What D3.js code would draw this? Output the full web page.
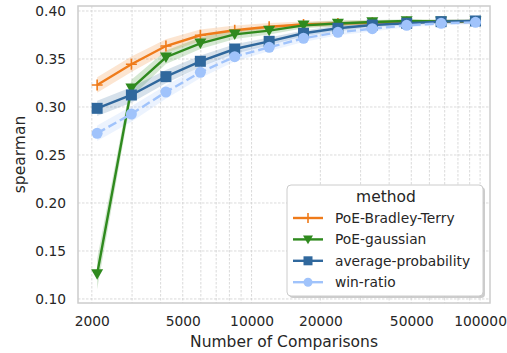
<!DOCTYPE html>
<html>
<head>
<meta charset="utf-8">
<script src="https://cdn.jsdelivr.net/npm/d3@7"></script>
<style>
  body { margin: 0; background: #fff; }
  svg { font-family: "DejaVu Sans", sans-serif; }
</style>
</head>
<body>
<div id="chart"></div>
<script>
// number of comparisons (x, log scale)
var comparisons = [2110, 2980, 4220, 5970, 8440, 11940, 16880, 23870, 33760, 47740, 67520, 95490];

// spearman per method
var bradleyTerry = [0.3229, 0.3445, 0.3635, 0.3747, 0.3800, 0.3836, 0.3860, 0.3870, 0.3878, 0.3885, 0.3889, 0.3891];
var gaussian     = [0.1260, 0.3195, 0.3518, 0.3663, 0.3757, 0.3795, 0.3850, 0.3870, 0.3885, 0.3895, 0.3892, 0.3893];
var avgProb      = [0.2986, 0.3125, 0.3316, 0.3476, 0.3604, 0.3684, 0.3768, 0.3820, 0.3854, 0.3872, 0.3889, 0.3896];
var winRatio     = [0.2726, 0.2927, 0.3156, 0.3361, 0.3524, 0.3622, 0.3716, 0.3778, 0.3816, 0.3851, 0.3872, 0.3882];

// half width of the confidence band
var bradleyTerryCI = [0.008, 0.008, 0.007, 0.006, 0.005, 0.004, 0.003, 0.003, 0.002, 0.002, 0.002, 0.002];
var gaussianCI     = [0.016, 0.009, 0.007, 0.006, 0.005, 0.004, 0.003, 0.003, 0.002, 0.002, 0.002, 0.002];
var avgProbCI      = [0.008, 0.008, 0.007, 0.006, 0.005, 0.004, 0.003, 0.003, 0.002, 0.002, 0.002, 0.002];
var winRatioCI     = [0.008, 0.008, 0.007, 0.006, 0.005, 0.004, 0.004, 0.003, 0.003, 0.002, 0.002, 0.002];

var methods = ['PoE-Bradley-Terry', 'PoE-gaussian', 'average-probability', 'win-ratio'];
var xTicks = [2000, 5000, 10000, 20000, 50000, 100000];
var xMinorTicks = [3000, 4000, 6000, 7000, 8000, 9000, 30000, 40000, 60000, 70000, 80000, 90000];
var yTicks = [0.10, 0.15, 0.20, 0.25, 0.30, 0.35, 0.40];

var series = [
  { name: methods[0], values: bradleyTerry, ci: bradleyTerryCI, color: '#ef7b1a', marker: 'plus', dash: null },
  { name: methods[1], values: gaussian, ci: gaussianCI, color: '#2f8a1e', marker: 'tri', dash: null },
  { name: methods[2], values: avgProb, ci: avgProbCI, color: '#30689d', marker: 'square', dash: null },
  { name: methods[3], values: winRatio, ci: winRatioCI, color: '#a0c3fb', marker: 'circle', dash: '9,4' }
];

var W = 507, H = 353;
var margin = {top: 6, right: 17, bottom: 50, left: 78},
    width = W - margin.left - margin.right,
    height = H - margin.top - margin.bottom;

var svg = d3.select('#chart')
  .append('svg')
    .attr('width', W)
    .attr('height', H);

var g = svg.append('g')
  .attr('transform', 'translate(' + margin.left + ',' + margin.top + ')');

var x = d3.scaleLog()
  .domain([1740, 110500])
  .range([0, width]);

var y = d3.scaleLinear()
  .domain([0.0958, 0.4052])
  .range([height, 0]);

// grid
g.selectAll('.vgrid')
  .data(xTicks.concat(xMinorTicks))
  .enter()
  .append('line')
    .attr('x1', function(d) { return x(d); })
    .attr('x2', function(d) { return x(d); })
    .attr('y1', 0)
    .attr('y2', height)
    .attr('stroke', '#d0d0d0')
    .attr('stroke-width', 0.8)
    .attr('stroke-dasharray', '2.5,1.5');

g.selectAll('.hgrid')
  .data(yTicks)
  .enter()
  .append('line')
    .attr('x1', 0)
    .attr('x2', width)
    .attr('y1', function(d) { return y(d); })
    .attr('y2', function(d) { return y(d); })
    .attr('stroke', '#d0d0d0')
    .attr('stroke-width', 0.8)
    .attr('stroke-dasharray', '2.5,1.5');

// frame
g.append('rect')
  .attr('width', width)
  .attr('height', height)
  .attr('fill', 'none')
  .attr('stroke', '#cccccc')
  .attr('stroke-width', 1.5);

// axes
var xAxis = g.append('g')
  .attr('transform', 'translate(0,' + height + ')')
  .call(d3.axisBottom(x).tickValues(xTicks).tickFormat(d3.format('d')).tickSize(0).tickPadding(13));
xAxis.select('.domain').remove();

var yAxis = g.append('g')
  .call(d3.axisLeft(y).tickValues(yTicks).tickFormat(d3.format('.2f')).tickSize(0).tickPadding(12));
yAxis.select('.domain').remove();

svg.selectAll('.tick text')
  .attr('font-family', '"DejaVu Sans", sans-serif')
  .attr('font-size', '13.8px')
  .attr('fill', '#262626');

svg.append('text')
  .attr('x', margin.left + width / 2)
  .attr('y', 347)
  .attr('text-anchor', 'middle')
  .attr('font-size', '15.5px')
  .attr('fill', '#262626')
  .text('Number of Comparisons');

svg.append('text')
  .attr('transform', 'translate(25,' + (margin.top + height / 2) + ') rotate(-90)')
  .attr('text-anchor', 'middle')
  .attr('font-size', '15.5px')
  .attr('fill', '#262626')
  .text('spearman');

// bands, lines and markers
var area = d3.area()
  .x(function(d) { return x(d.x); })
  .y0(function(d) { return y(d.y - d.ci); })
  .y1(function(d) { return y(d.y + d.ci); });

var line = d3.line()
  .x(function(d) { return x(d.x); })
  .y(function(d) { return y(d.y); });

function drawMarker(sel, type, color, size) {
  if (type === 'plus') {
    sel.append('path')
      .attr('d', 'M' + (-size) + ',0H' + size + 'M0,' + (-size) + 'V' + size)
      .attr('stroke', color)
      .attr('stroke-width', 1.6)
      .attr('fill', 'none');
  } else if (type === 'tri') {
    sel.append('path')
      .attr('d', 'M' + (-size) + ',' + (-size * 0.8) + 'L' + size + ',' + (-size * 0.8) + 'L0,' + (size * 0.95) + 'Z')
      .attr('fill', color);
  } else if (type === 'square') {
    sel.append('rect')
      .attr('x', -size).attr('y', -size)
      .attr('width', size * 2).attr('height', size * 2)
      .attr('fill', color);
  } else {
    sel.append('circle')
      .attr('r', size)
      .attr('fill', color);
  }
}

var markerSize = {plus: 5.5, tri: 6, square: 5.5, circle: 5.5};
var legendMarkerSize = {plus: 5, tri: 5, square: 4.5, circle: 4.5};

series.forEach(function(s) {
  var pts = comparisons.map(function(c, i) { return {x: c, y: s.values[i], ci: s.ci[i]}; });
  g.append('path')
    .datum(pts)
    .attr('d', area)
    .attr('fill', s.color)
    .attr('opacity', 0.2);
});

series.forEach(function(s) {
  var pts = comparisons.map(function(c, i) { return {x: c, y: s.values[i]}; });
  g.append('path')
    .datum(pts)
    .attr('d', line)
    .attr('fill', 'none')
    .attr('stroke', s.color)
    .attr('stroke-width', 2.4)
    .attr('stroke-dasharray', s.dash);
  pts.forEach(function(p) {
    var m = g.append('g').attr('transform', 'translate(' + x(p.x) + ',' + y(p.y) + ')');
    drawMarker(m, s.marker, s.color, markerSize[s.marker]);
  });
});

// legend
var legend = svg.append('g').attr('transform', 'translate(287,185)');
legend.append('rect')
  .attr('x', 2).attr('y', 2)
  .attr('width', 196).attr('height', 111)
  .attr('rx', 4)
  .attr('fill', '#999')
  .attr('opacity', 0.5);
legend.append('rect')
  .attr('width', 196).attr('height', 111)
  .attr('rx', 4)
  .attr('fill', '#fff')
  .attr('stroke', '#cccccc')
  .attr('stroke-width', 1);
legend.append('text')
  .attr('x', 99).attr('y', 17)
  .attr('text-anchor', 'middle')
  .attr('font-size', '15.5px')
  .attr('fill', '#262626')
  .text('method');

series.forEach(function(s, i) {
  var row = legend.append('g').attr('transform', 'translate(0,' + (33 + i * 21.4) + ')');
  row.append('line')
    .attr('x1', 6).attr('x2', 36)
    .attr('stroke', s.color)
    .attr('stroke-width', 2.4);
  var m = row.append('g').attr('transform', 'translate(21,0)');
  drawMarker(m, s.marker, s.color, legendMarkerSize[s.marker]);
  row.append('text')
    .attr('x', 48).attr('y', 5)
    .attr('font-size', '13.8px')
    .attr('fill', '#262626')
    .text(s.name);
});
</script>
</body>
</html>
